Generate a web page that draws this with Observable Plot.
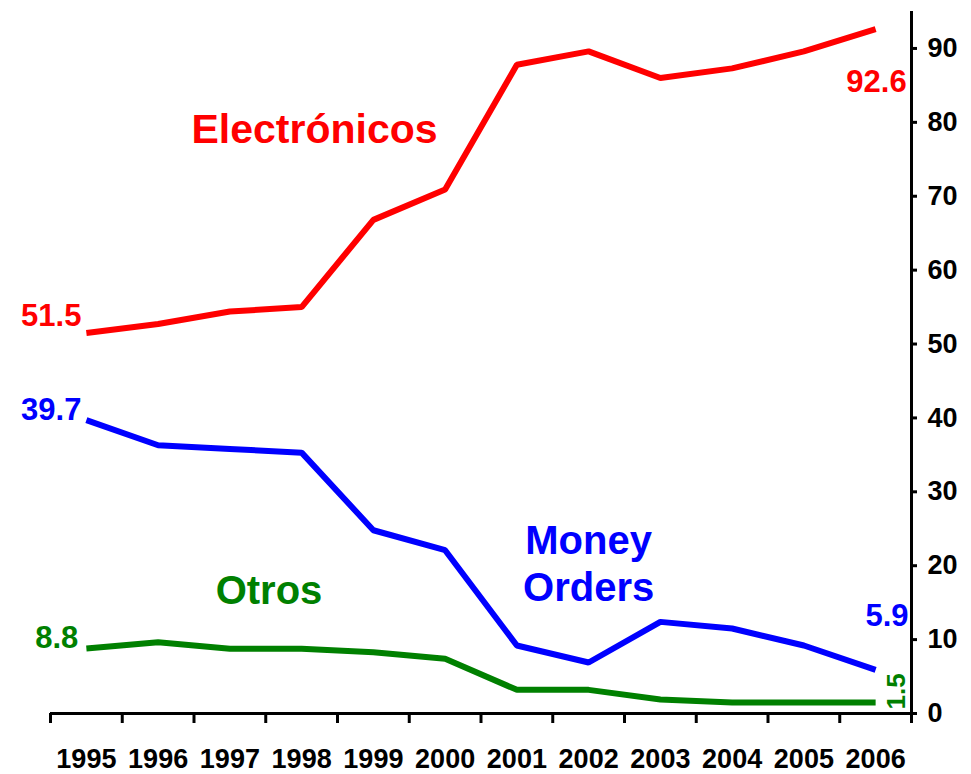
<!DOCTYPE html>
<html><head><meta charset="utf-8">
<script src="https://cdn.jsdelivr.net/npm/d3@7"></script>
<script src="https://cdn.jsdelivr.net/npm/@observablehq/plot@0.6"></script>
<style>body{margin:0;background:#fff}#chart svg{display:block}</style>
</head><body><div id="chart"></div>
<script>
const years = [1995,1996,1997,1998,1999,2000,2001,2002,2003,2004,2005,2006];
const electronicos = [51.5,52.7,54.4,55.0,66.8,70.9,87.8,89.6,86.0,87.3,89.6,92.6];
const moneyOrders = [39.7,36.3,35.8,35.3,24.8,22.1,9.2,6.9,12.4,11.5,9.2,5.9];
const otros = [8.8,9.65,8.75,8.75,8.3,7.4,3.2,3.2,1.9,1.5,1.5,1.5];
const yTicks = [0,10,20,30,40,50,60,70,80,90];
const seriesNames = ["Electrónicos","Money Orders","Otros"];
const seriesColors = ["#ff0000","#0000ff","#008000"];

const rows = [];
[electronicos, moneyOrders, otros].forEach((vals, i) => {
  years.forEach((yr, j) => rows.push({series: seriesNames[i], year: yr, value: vals[j]}));
});
const boundaries = [...years.map(y => y - 0.5), years[years.length - 1] + 0.5];
const x0 = boundaries[0], x1 = boundaries[boundaries.length - 1];
const first = s => rows.find(d => d.series === s && d.year === years[0]);
const last = s => rows.find(d => d.series === s && d.year === years[years.length - 1]);
const fmt = d => d.value.toFixed(1);
const font = "Liberation Sans, Arial, sans-serif";

const valueLabel = (d, color, opts) => Plot.text([d], {
  x: "year", y: "value", text: fmt, fill: color, fontSize: 31, fontWeight: "bold", ...opts
});

const chart = Plot.plot({
  width: 971,
  height: 774,
  marginLeft: 50,
  marginRight: 60,
  marginTop: 11,
  marginBottom: 61,
  style: {fontFamily: font, background: "#fff", color: "#000"},
  x: {domain: [x0, x1], axis: null},
  y: {domain: [0, 95], axis: null},
  color: {domain: seriesNames, range: seriesColors},
  marks: [
    Plot.axisX({ticks: boundaries, tickFormat: () => "", tickSize: 10, strokeWidth: 3, label: null}),
    Plot.axisX({ticks: years, tickFormat: d => String(d), tickSize: 0, tickPadding: 35,
      fontSize: 27, fontWeight: "bold", fill: "#000", label: null}),
    Plot.axisY({ticks: yTicks, anchor: "right", tickSize: 5, tickPadding: 11, strokeWidth: 3,
      fontSize: 27, fontWeight: "bold", fill: "#000", textAnchor: "start", label: null}),
    Plot.ruleY([0], {x1: x0, x2: x1, stroke: "#000", strokeWidth: 3}),
    Plot.ruleX([x1], {y1: 0, y2: 95, stroke: "#000", strokeWidth: 3}),
    Plot.line(rows, {x: "year", y: "value", z: "series", stroke: "series", strokeWidth: 6,
      strokeLinejoin: "miter", strokeLinecap: "butt"}),
    valueLabel(first("Electrónicos"), "#ff0000", {textAnchor: "end", dx: -5, dy: -17}),
    valueLabel(first("Money Orders"), "#0000ff", {textAnchor: "end", dx: -5, dy: -10}),
    valueLabel(first("Otros"), "#008000", {textAnchor: "end", dx: -8, dy: -10}),
    valueLabel(last("Electrónicos"), "#ff0000", {textAnchor: "end", dx: 31, dy: 53}),
    valueLabel(last("Money Orders"), "#0000ff", {textAnchor: "end", dx: 33, dy: -54}),
    Plot.text([last("Otros")], {x: "year", y: "value", text: fmt, fill: "#008000", fontSize: 26,
      fontWeight: "bold", rotate: -90, textAnchor: "middle", dx: 21, dy: -11}),
    Plot.text(["Electrónicos"], {x: () => 1998.18, y: () => 79.0, text: d => d, fill: "#ff0000",
      fontSize: 41, fontWeight: "bold", textAnchor: "middle"}),
    Plot.text(["Money\nOrders"], {x: () => 2002, y: () => 20.5, text: d => d, fill: "#0000ff",
      fontSize: 40, fontWeight: "bold", textAnchor: "middle", lineHeight: 1.175}),
    Plot.text(["Otros"], {x: () => 1997.545, y: () => 16.6, text: d => d, fill: "#008000",
      fontSize: 40, fontWeight: "bold", textAnchor: "middle"})
  ]
});
document.getElementById("chart").appendChild(chart);
</script>
</body></html>
